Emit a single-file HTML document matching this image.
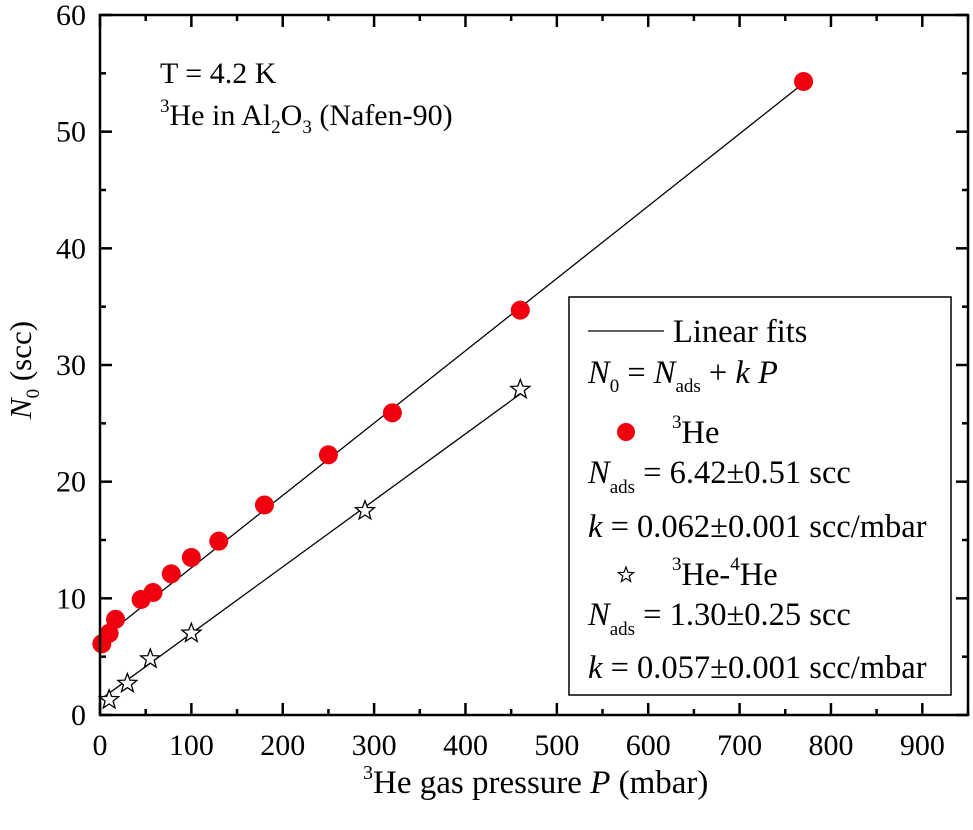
<!DOCTYPE html>
<html><head><meta charset="utf-8"><style>
body{margin:0;background:#fff}
svg{display:block;font-family:"Liberation Serif",serif}
</style></head><body>
<svg id="c" width="973" height="830" viewBox="0 0 973 830">
<g id="marks"></g>
<g id="axes"></g>
<text x="160" y="83" font-size="30">T = 4.2 K</text>
<text x="160" y="125" font-size="30"><tspan font-size="19" dy="-13">3</tspan><tspan dy="13">He in Al</tspan><tspan font-size="19" dy="8">2</tspan><tspan dy="-8">O</tspan><tspan font-size="19" dy="8">3</tspan><tspan dy="-8"> (Nafen-90)</tspan></text>
<text x="363" y="793" font-size="33"><tspan font-size="20" dy="-14">3</tspan><tspan dy="14">He gas pressure </tspan><tspan font-style="italic">P</tspan> (mbar)</text>
<text transform="translate(31,370) rotate(-90)" font-size="31" text-anchor="middle"><tspan font-style="italic">N</tspan><tspan font-size="19" dy="8">0</tspan><tspan dy="-8"> (scc)</tspan></text>
<g>
<rect x="569" y="297" width="382" height="398" fill="#fff" stroke="#000" stroke-width="1.5"/>
<line x1="588" y1="331" x2="664" y2="331" stroke="#000" stroke-width="1.2"/>
<g font-size="32.5">
<text x="673" y="342">Linear fits</text>
<text x="588" y="383"><tspan font-style="italic">N</tspan><tspan font-size="19" dy="9">0</tspan><tspan dy="-9"> = </tspan><tspan font-style="italic">N</tspan><tspan font-size="19" dy="9">ads</tspan><tspan dy="-9"> + </tspan><tspan font-style="italic">k P</tspan></text>
<circle cx="626" cy="432" r="9" fill="#f0000f"/>
<text x="672" y="443"><tspan font-size="19" dy="-15">3</tspan><tspan dy="15">He</tspan></text>
<text x="588" y="483"><tspan font-style="italic">N</tspan><tspan font-size="19" dy="10">ads</tspan><tspan dy="-10"> = 6.42±0.51 scc</tspan></text>
<text x="588" y="537"><tspan font-style="italic">k</tspan> = 0.062±0.001 scc/mbar</text>
<text x="672" y="585"><tspan font-size="19" dy="-15">3</tspan><tspan dy="15">He-</tspan><tspan font-size="19" dy="-15">4</tspan><tspan dy="15">He</tspan></text>
<text x="588" y="625"><tspan font-style="italic">N</tspan><tspan font-size="19" dy="10">ads</tspan><tspan dy="-10"> = 1.30±0.25 scc</tspan></text>
<text x="588" y="678"><tspan font-style="italic">k</tspan> = 0.057±0.001 scc/mbar</text>
</g>
<polygon id="legstar" fill="#fff" stroke="#000" stroke-width="1.2"/>
</g>
</svg>
<script>
const redP=[2,10,17,45,58,78,100,130,180,250,320,460,770];
const redN=[6.1,7,8.2,9.9,10.5,12.1,13.5,14.9,18,22.3,25.9,34.7,54.3];
const starP=[10,30,55,100,290,460];
const starN=[1.3,2.7,4.8,7,17.5,27.9];
const fitRed=[6.42,0.062,770];
const fitStar=[1.30,0.057,460];
const xTicks=[0,100,200,300,400,500,600,700,800,900];
const yTicks=[0,10,20,30,40,50,60];
const X0=100,X1=968,Y0=715,Y1=15,XMAX=950,YMAX=60;
const sx=v=>X0+v*(X1-X0)/XMAX, sy=v=>Y0-v*(Y0-Y1)/YMAX;
const NS="http://www.w3.org/2000/svg";
const mk=(t,a,p)=>{const e=document.createElementNS(NS,t);for(const k in a)e.setAttribute(k,a[k]);p.appendChild(e);return e;};
const marks=document.getElementById('marks'),axes=document.getElementById('axes');
function starPts(cx,cy,R){let r=R*0.42,s=[];for(let i=0;i<10;i++){const a=-Math.PI/2+i*Math.PI/5,rr=i%2?r:R;s.push((cx+rr*Math.cos(a)).toFixed(1)+','+(cy+rr*Math.sin(a)).toFixed(1));}return s.join(' ');}
[[fitRed,'fit-line-3he'],[fitStar,'fit-line-3he-4he']].forEach(([f,n])=>{
const l=mk('line',{x1:sx(0),y1:sy(f[0]),x2:sx(f[2]),y2:sy(f[0]+f[1]*f[2]),stroke:'#000','stroke-width':1.3},marks);


});
redP.forEach((p,i)=>{
const c=mk('circle',{cx:sx(p),cy:sy(redN[i]),r:9.5,fill:'#f0000f'},marks);


});
starP.forEach((p,i)=>{
const s=mk('polygon',{points:starPts(sx(p),sy(starN[i]),10),fill:'#fff',stroke:'#000','stroke-width':1.3},marks);


});
document.getElementById('legstar').setAttribute('points',starPts(626,575,8));
mk('rect',{x:X0,y:Y1,width:X1-X0,height:Y0-Y1,fill:'none',stroke:'#000','stroke-width':2.5},axes);
for(let v=0;v<=XMAX;v+=50){const x=sx(v),L=v%100?6:12;
mk('line',{x1:x,y1:Y0,x2:x,y2:Y0-L,stroke:'#000','stroke-width':2.5},axes);
mk('line',{x1:x,y1:Y1,x2:x,y2:Y1+L,stroke:'#000','stroke-width':2.5},axes);}
for(let v=0;v<=YMAX;v+=5){const y=sy(v),L=v%10?6:12;
mk('line',{x1:X0,y1:y,x2:X0+L,y2:y,stroke:'#000','stroke-width':2.5},axes);
mk('line',{x1:X1,y1:y,x2:X1-L,y2:y,stroke:'#000','stroke-width':2.5},axes);}
xTicks.forEach(v=>{const t=mk('text',{x:sx(v),y:Y0+40,'font-size':30,'text-anchor':'middle'},axes);t.textContent=v;

});
yTicks.forEach(v=>{const t=mk('text',{x:X0-14,y:sy(v)+10,'font-size':30,'text-anchor':'end'},axes);t.textContent=v;

});
</script>
</body></html>
